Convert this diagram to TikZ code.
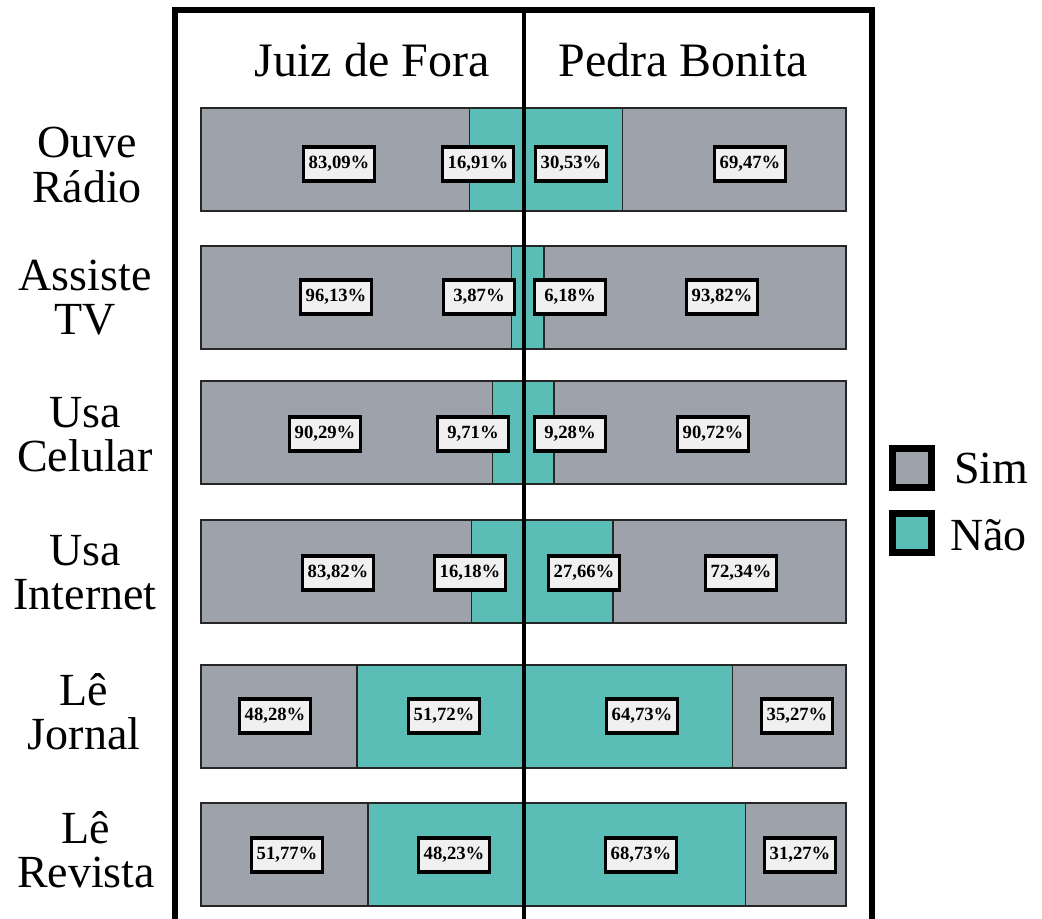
\documentclass[tikz,border=0pt]{standalone}
\usepackage{fontspec}
\setmainfont{Liberation Serif}
\definecolor{simgray}{HTML}{9EA2AA}
\definecolor{naoteal}{HTML}{5BBEB6}
\definecolor{boxfill}{HTML}{F0F0F0}
\begin{document}
\begin{tikzpicture}[x=0.75pt,y=-0.75pt,
  val/.style={draw=black, line width=2.3pt, fill=boxfill, inner sep=0pt,
    minimum width=53pt, minimum height=25.5pt,
    font=\bfseries\fontsize{14}{14}\selectfont},
  rowlab/.style={align=center, inner sep=0pt, font=\fontsize{34.5}{33}\selectfont},
  head/.style={anchor=base, inner sep=0pt, font=\fontsize{36}{36}\selectfont},
  legsq/.style={draw=black, line width=5pt, minimum size=29pt, inner sep=0pt},
  legtxt/.style={anchor=west, inner sep=0pt, font=\fontsize{34.5}{34.5}\selectfont},
  barline/.style={draw=black!85, line width=1.1pt}]
\useasboundingbox (0,0) rectangle (1042,919);
% bars
\foreach \t/\ln/\rn in {108/16.91/30.53, 246/3.87/6.18, 381/9.71/9.28, 520/16.18/27.66, 665/51.72/64.73, 803/48.23/68.73}{
  \fill[simgray] (201,\t) rectangle (846,\t+103);
  \fill[naoteal] ({524-3.23*\ln},\t) rectangle ({524+3.22*\rn},\t+103);
  \draw[barline] ({524-3.23*\ln},\t) -- ({524-3.23*\ln},\t+103);
  \draw[barline] ({524+3.22*\rn},\t) -- ({524+3.22*\rn},\t+103);
  \draw[barline] (201,\t) rectangle (846,\t+103);
}
% frame and centre line
\draw[line width=3.9pt] (175,935) -- (175,10) -- (872,10) -- (872,935);
\draw[line width=2.4pt] (524,10) -- (524,935);
% headers
\node[head] (hjf) at (372,77) {Juiz de Fora};
\node[head] (hpb) at (683,77) {Pedra Bonita};
% row labels
\node[rowlab] (l1) at (87,165) {Ouve\\Rádio};
\node[rowlab] (l2) at (85,298) {Assiste\\TV};
\node[rowlab] (l3) at (85,435) {Usa\\Celular};
\node[rowlab] (l4) at (85,573) {Usa\\Internet};
\node[rowlab] (l5) at (84,712) {Lê\\Jornal};
\node[rowlab] (l6) at (86,850) {Lê\\Revista};
% value boxes
\node[val] (v1a) at (339,164) {83,09\%};
\node[val] (v1b) at (478,164) {16,91\%};
\node[val] (v1c) at (571,164) {30,53\%};
\node[val] (v1d) at (750,164) {69,47\%};
\node[val] (v2a) at (336,297) {96,13\%};
\node[val] (v2b) at (479,297) {3,87\%};
\node[val] (v2c) at (570,297) {6,18\%};
\node[val] (v2d) at (722,297) {93,82\%};
\node[val] (v3a) at (325,434) {90,29\%};
\node[val] (v3b) at (473,434) {9,71\%};
\node[val] (v3c) at (570,434) {9,28\%};
\node[val] (v3d) at (713,434) {90,72\%};
\node[val] (v4a) at (338,573) {83,82\%};
\node[val] (v4b) at (470,573) {16,18\%};
\node[val] (v4c) at (584,573) {27,66\%};
\node[val] (v4d) at (741,573) {72,34\%};
\node[val] (v5a) at (275,716) {48,28\%};
\node[val] (v5b) at (444,716) {51,72\%};
\node[val] (v5c) at (642,716) {64,73\%};
\node[val] (v5d) at (797,716) {35,27\%};
\node[val] (v6a) at (287,855) {51,77\%};
\node[val] (v6b) at (454,855) {48,23\%};
\node[val] (v6c) at (641,855) {68,73\%};
\node[val] (v6d) at (800,855) {31,27\%};
% legend
\node[legsq, fill=simgray] (ksim) at (912,468) {};
\node[legsq, fill=naoteal] (knao) at (912,533) {};
\node[legtxt] (tsim) at (954,468) {Sim};
\node[legtxt] (tnao) at (950,535) {Não};
\end{tikzpicture}
\end{document}
